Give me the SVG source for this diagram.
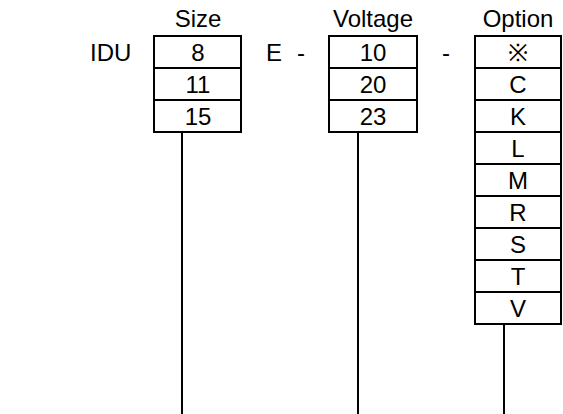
<svg xmlns="http://www.w3.org/2000/svg" width="563" height="414" viewBox="0 0 563 414">
<style>
text{font-family:"Liberation Sans",Arial,sans-serif;font-size:24px;fill:#000}
.c{text-anchor:middle}
.box{fill:#fff;stroke:#000;stroke-width:2}
.ln{stroke:#000;stroke-width:2;fill:none}
</style>
<rect width="563" height="414" fill="#fff"/>
<g id="labels">
<text x="90" y="61">IDU</text>
<text x="266" y="61">E</text>
<text x="297" y="61">-</text>
<text x="442" y="61">-</text>
</g>
<g id="size">
<text class="c" x="198" y="27">Size</text>
<rect class="box" x="154" y="36" width="87" height="96"/>
<path class="ln" d="M154 68H241M154 100H241"/>
<text class="c" x="198" y="61">8</text>
<text class="c" x="198" y="93">11</text>
<text class="c" x="198" y="125">15</text>
</g>
<g id="voltage">
<text class="c" x="373" y="27">Voltage</text>
<rect class="box" x="329" y="36" width="88" height="96"/>
<path class="ln" d="M329 68H417M329 100H417"/>
<text class="c" x="373" y="61">10</text>
<text class="c" x="373" y="93">20</text>
<text class="c" x="373" y="125">23</text>
</g>
<g id="option">
<text class="c" x="518" y="27">Option</text>
<rect class="box" x="475" y="36" width="86" height="288"/>
<path class="ln" d="M475 68H561M475 100H561M475 132H561M475 164H561M475 196H561M475 228H561M475 260H561M475 292H561"/>
<text class="c" x="518" y="61">※</text>
<text class="c" x="518" y="93">C</text>
<text class="c" x="518" y="125">K</text>
<text class="c" x="518" y="157">L</text>
<text class="c" x="518" y="189">M</text>
<text class="c" x="518" y="221">R</text>
<text class="c" x="518" y="253">S</text>
<text class="c" x="518" y="285">T</text>
<text class="c" x="518" y="317">V</text>
</g>
<g id="connectors">
<path class="ln" d="M182 132V414M358 132V414M504 324V414"/>
</g>
</svg>
